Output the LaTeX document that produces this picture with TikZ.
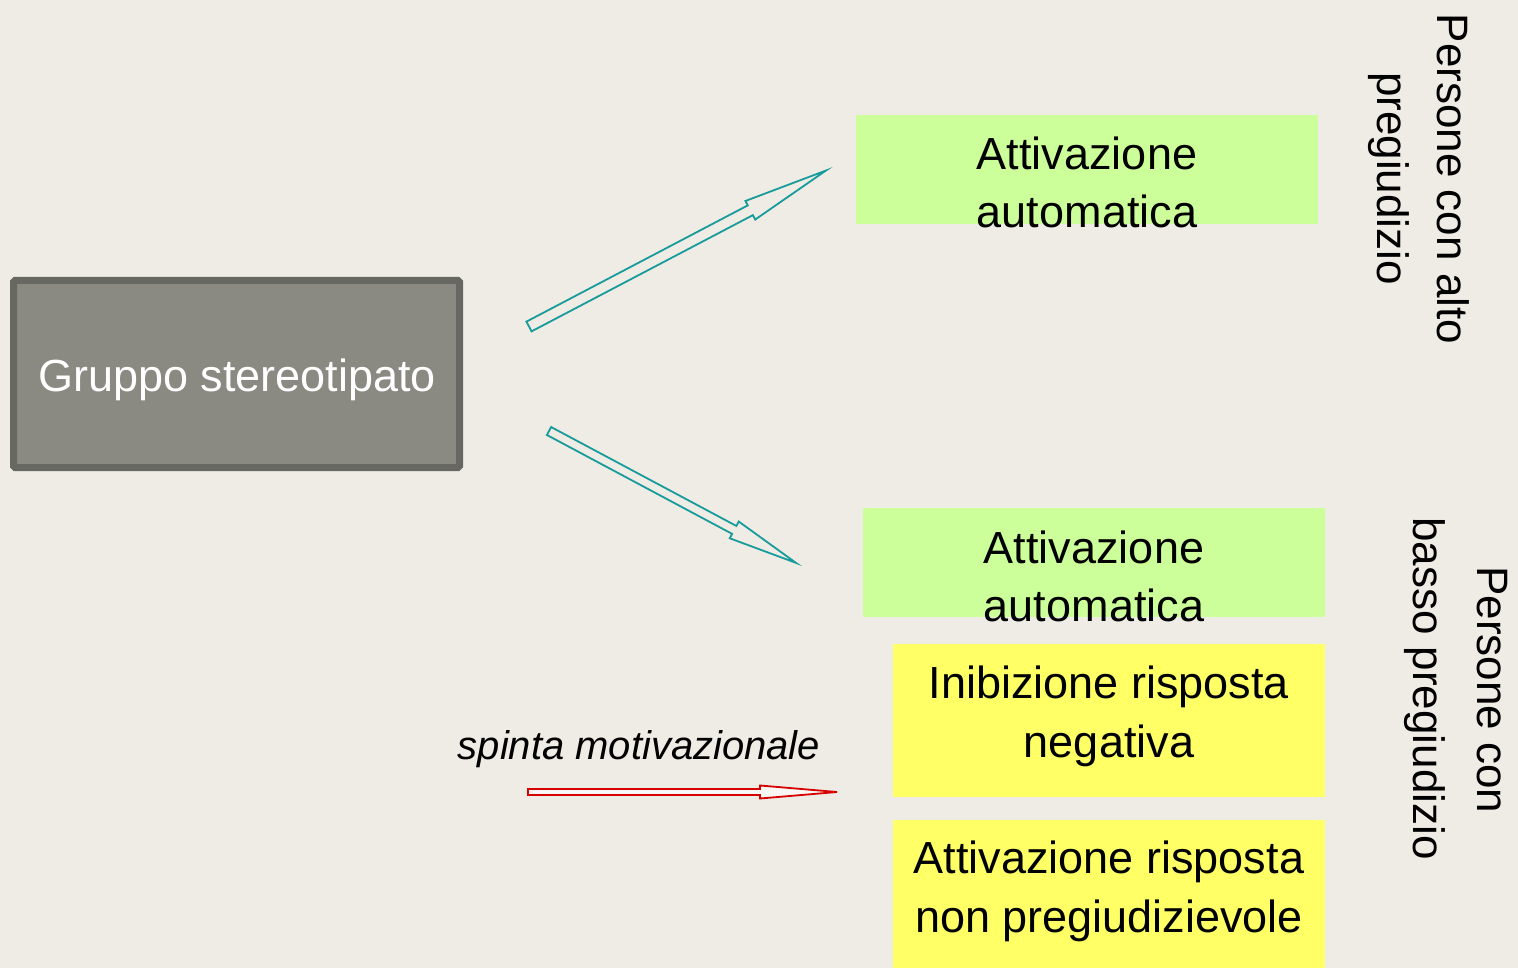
\documentclass[tikz,border=0pt]{standalone}
\usepackage{fontspec}
\setmainfont{Liberation Sans}
\newfontfamily\arialf{Liberation Sans}
\definecolor{bgc}{RGB}{238,236,228}
\definecolor{grayfill}{RGB}{138,138,131}
\definecolor{grayline}{RGB}{104,104,98}
\definecolor{greenfill}{RGB}{204,255,153}
\definecolor{yellowfill}{RGB}{255,255,102}
\definecolor{tealc}{RGB}{24,155,155}
\definecolor{redc}{RGB}{214,0,0}
\tikzset{
  boxtext/.style={anchor=base, inner sep=0pt, font=\fontsize{45}{58}\selectfont, text=black},
  sidetext/.style={anchor=base, inner sep=0pt, rotate=-90, font=\arialf\fontsize{44}{60}\selectfont, text=black},
  tealarrow/.style={draw=tealc, line width=1.8pt, fill=bgc, line join=miter},
  redarrow/.style={draw=redc, line width=1.8pt, fill=white!60!bgc, line join=miter},
  colbox/.style={draw=none, inner sep=0pt, anchor=north west}
}
\begin{document}
\begin{tikzpicture}[x=1pt,y=-1pt]
\fill[bgc] (0,0) rectangle (1518,968);
\useasboundingbox (0,0) rectangle (1518,968);

% gray box
\node[draw=grayline, line width=7pt, fill=grayfill, rounded corners=1.5pt, minimum width=446pt, minimum height=187pt, inner sep=0pt] (grp) at (236.5,374) {};
\node[boxtext, text=white] (grpt) at (237,391) {Gruppo stereotipato};

% green boxes
\node[colbox, fill=greenfill, minimum width=462pt, minimum height=109pt] (g1) at (856,115) {};
\node[boxtext] (g1a) at (1087,170) {Attivazione};
\node[boxtext] (g1b) at (1087,228) {automatica};

\node[colbox, fill=greenfill, minimum width=462pt, minimum height=109pt] (g2) at (863,508) {};
\node[boxtext] (g2a) at (1094,563) {Attivazione};
\node[boxtext] (g2b) at (1094,621) {automatica};

% yellow boxes
\node[colbox, fill=yellowfill, minimum width=432pt, minimum height=153pt] (y1) at (893,644) {};
\node[boxtext] (y1a) at (1109,698) {Inibizione risposta};
\node[boxtext] (y1b) at (1109,757) {negativa};

\node[colbox, fill=yellowfill, minimum width=432pt, minimum height=148pt] (y2) at (893,820) {};
\node[boxtext] (y2a) at (1109,873) {Attivazione risposta};
\node[boxtext] (y2b) at (1109,932) {non pregiudizievole};

% side labels
\node[sidetext] (s1a) at (1437,179) {Persone con alto};
\node[sidetext] (s1b) at (1377,178.5) {pregiudizio};
\node[sidetext] (s2a) at (1477,690) {Persone con};
\node[sidetext] (s2b) at (1413,688.5) {basso pregiudizio};

% spinta motivazionale
\node[anchor=base, inner sep=0pt, font=\arialf\itshape\fontsize{40}{48}\selectfont] (sp) at (639,759) {spinta motivazionale};

% teal block arrow up
\begin{scope}[shift={(529,326.5)}, rotate=27.71]
\draw[tealarrow] (0,-5.5) -- (250,-5.5) -- (250,-10.5) -- (335.5,0) -- (250,10.5) -- (250,5.5) -- (0,5.5) -- cycle;
\end{scope}
% teal block arrow down
\begin{scope}[shift={(549,431)}, rotate=-28.1]
\draw[tealarrow] (0,-4.5) -- (210,-4.5) -- (210,-9.5) -- (280,0) -- (210,9.5) -- (210,4.5) -- (0,4.5) -- cycle;
\end{scope}
% red block arrow
\draw[redarrow] (528,789) -- (760,789) -- (760,785.5) -- (837,792) -- (760,798.5) -- (760,795) -- (528,795) -- cycle;
\end{tikzpicture}
\end{document}
